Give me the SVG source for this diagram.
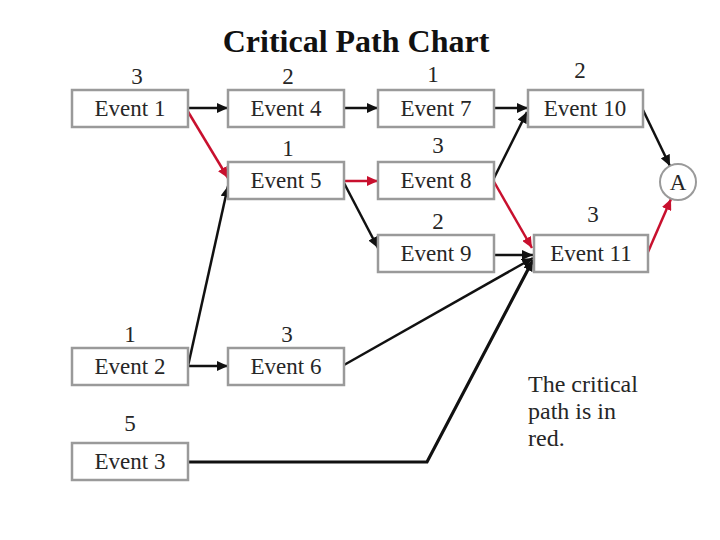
<svg xmlns="http://www.w3.org/2000/svg" width="720" height="540" viewBox="0 0 720 540">
  <style>
    .box { fill: #ffffff; stroke: #9a9a9a; stroke-width: 2.5; }
    .lbl { font-family: "Liberation Serif", "Times New Roman", serif; font-size: 23px; fill: #262626; text-anchor: middle; }
    .num { font-family: "Liberation Serif", "Times New Roman", serif; font-size: 23px; fill: #262626; text-anchor: middle; }
    .title { font-family: "Liberation Serif", "Times New Roman", serif; font-size: 32px; font-weight: bold; fill: #111111; text-anchor: middle; }
    .note { font-family: "Liberation Serif", "Times New Roman", serif; font-size: 24px; fill: #262626; }
    .blk { fill: none; stroke: #111111; stroke-width: 2.5; marker-end: url(#ab); }
    .red { fill: none; stroke: #c8102e; stroke-width: 2.5; marker-end: url(#ar); }
  </style>
  <defs>
    <marker id="ab" markerUnits="userSpaceOnUse" markerWidth="12" markerHeight="10" refX="11" refY="5" orient="auto">
      <path d="M0,0 L11,5 L0,10 z" fill="#111111"/>
    </marker>
    <marker id="ar" markerUnits="userSpaceOnUse" markerWidth="12" markerHeight="10" refX="11" refY="5" orient="auto">
      <path d="M0,0 L11,5 L0,10 z" fill="#c8102e"/>
    </marker>
  </defs>
  <rect width="720" height="540" fill="#ffffff"/>
  <text class="title" x="356" y="52">Critical Path Chart</text>

  <g id="connectors">
    <path class="blk" d="M187,108 L228,108"/>
    <path class="blk" d="M344,108 L378,108"/>
    <path class="blk" d="M495,108 L528,108"/>
    <path class="blk" d="M493,180 L527,112"/>
    <path class="blk" d="M643,110 L670,166"/>
    <path class="red" d="M648,252 L671,199"/>
    <path class="red" d="M493,180 L532,248"/>
    <path class="blk" d="M495,255 L533,255"/>
    <path class="red" d="M187,110 L228,178"/>
    <path class="red" d="M344,181 L378,181"/>
    <path class="blk" d="M344,183 L378,248"/>
    <path class="blk" d="M188,366 L228,186"/>
    <path class="blk" d="M188,366 L228,366"/>
    <path class="blk" d="M344,365 L533,258"/>
    <path class="blk" d="M188,462 L427,462 L533,260" style="stroke-width:3.2"/>
  </g>

  <g id="event1"><rect class="box" x="72" y="90" width="116" height="37"/><text class="lbl" x="130" y="116">Event 1</text><text class="num" x="137" y="84">3</text></g>
  <g id="event4"><rect class="box" x="228" y="90" width="116" height="37"/><text class="lbl" x="286" y="116">Event 4</text><text class="num" x="288" y="84">2</text></g>
  <g id="event7"><rect class="box" x="378" y="90" width="116" height="37"/><text class="lbl" x="436" y="116">Event 7</text><text class="num" x="433" y="82">1</text></g>
  <g id="event10"><rect class="box" x="528" y="90" width="115" height="37"/><text class="lbl" x="585" y="116">Event 10</text><text class="num" x="580" y="78">2</text></g>
  <g id="event5"><rect class="box" x="228" y="162" width="116" height="37"/><text class="lbl" x="286" y="188">Event 5</text><text class="num" x="288" y="156">1</text></g>
  <g id="event8"><rect class="box" x="378" y="162" width="116" height="37"/><text class="lbl" x="436" y="188">Event 8</text><text class="num" x="438" y="153">3</text></g>
  <g id="event9"><rect class="box" x="378" y="235" width="116" height="37"/><text class="lbl" x="436" y="261">Event 9</text><text class="num" x="438" y="229">2</text></g>
  <g id="event11"><rect class="box" x="534" y="235" width="114" height="37"/><text class="lbl" x="591" y="261">Event 11</text><text class="num" x="593" y="222">3</text></g>
  <g id="event2"><rect class="box" x="72" y="348" width="116" height="37"/><text class="lbl" x="130" y="374">Event 2</text><text class="num" x="130" y="342">1</text></g>
  <g id="event6"><rect class="box" x="228" y="348" width="116" height="37"/><text class="lbl" x="286" y="374">Event 6</text><text class="num" x="287" y="342">3</text></g>
  <g id="event3"><rect class="box" x="72" y="443" width="116" height="37"/><text class="lbl" x="130" y="469">Event 3</text><text class="num" x="130" y="431">5</text></g>
  <g id="nodeA"><circle cx="678" cy="182" r="18" fill="#ffffff" stroke="#9a9a9a" stroke-width="2"/><text class="lbl" x="678" y="190">A</text></g>

  <g id="note">
    <text class="note" x="528" y="392">The critical</text>
    <text class="note" x="528" y="419">path is in</text>
    <text class="note" x="528" y="446">red.</text>
  </g>
</svg>
